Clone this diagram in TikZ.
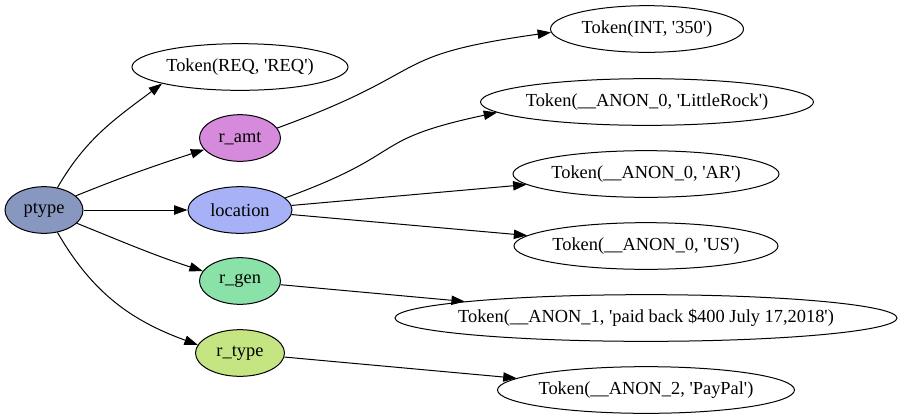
\documentclass[tikz,border=0pt]{standalone}
\usepackage{fontspec}
\setmainfont{Liberation Serif}[Ligatures=TeXOff]
\usetikzlibrary{shapes.geometric,arrows.meta}
\definecolor{ptypefill}{HTML}{8797BF}
\definecolor{amtfill}{HTML}{D68ADB}
\definecolor{locfill}{HTML}{A6B1F6}
\definecolor{genfill}{HTML}{8AE2A8}
\definecolor{typefill}{HTML}{C4E582}
\tikzset{main/.style={draw=black, ellipse, line width=0.75pt, inner ysep=0pt, inner xsep=-15pt, minimum height=35pt, font=\fontsize{13.8}{16}\selectfont}}
\tikzset{edge/.style={-{Triangle[length=10pt,width=7pt]}, line width=0.75pt}}

\begin{document}
\begin{tikzpicture}[x=0.75pt,y=0.75pt]
		\useasboundingbox (0,0) rectangle (911,-419);
		\node[main, fill=ptypefill, minimum width=58.5pt] (ptype) at (44,-210) {ptype};
		\node[main, minimum width=162pt] (req) at (240,-67) {Token(REQ, 'REQ')};
		\node[main, fill=amtfill, minimum width=60.75pt] (ramt) at (240,-138) {r\_amt};
		\node[main, fill=locfill, minimum width=78pt] (loc) at (240,-210) {location};
		\node[main, fill=genfill, minimum width=60.75pt] (rgen) at (240,-281) {r\_gen};
		\node[main, fill=typefill, minimum width=66.75pt] (rtype) at (240,-353) {r\_type};
		\node[main, minimum width=144.75pt] (int) at (647,-29) {Token(INT, '350')};
		\node[main, minimum width=249.75pt] (rock) at (647,-102) {Token(\_\_ANON\_0, 'LittleRock')};
		\node[main, minimum width=199.5pt] (ar) at (646,-174) {Token(\_\_ANON\_0, 'AR')};
		\node[main, minimum width=198pt] (us) at (646,-246) {Token(\_\_ANON\_0, 'US')};
		\node[main, minimum width=376.5pt] (paid) at (646,-318) {Token(\_\_ANON\_1, 'paid back \$400 July 17,2018')};
		\node[main, minimum width=222.75pt] (paypal) at (646,-390) {Token(\_\_ANON\_2, 'PayPal')};
		
		% ptype to its children
		\draw[edge] (ptype.59) to[out=60,in=217] (req.192);
		\draw[edge] (ptype.24) to[out=22,in=198] (ramt.198);
		\draw[edge] (ptype) -- (loc);
		\draw[edge] (ptype.-22) to[out=-22,in=162] (rgen.165);
		\draw[edge] (ptype.-59) to[out=-60,in=160] (rtype.169);
		
		% tokens
		\draw[edge] (ramt.15) to[out=20,in=188,looseness=1.5] (int.182);
		\draw[edge] (loc.15) to[out=20,in=192,looseness=1.5] (rock.184);
		\draw[edge] (loc) -- (ar);
		\draw[edge] (loc) -- (us);
		\draw[edge] (rgen) -- (paid);
		\draw[edge] (rtype) -- (paypal);
	\end{tikzpicture}
\end{document}
